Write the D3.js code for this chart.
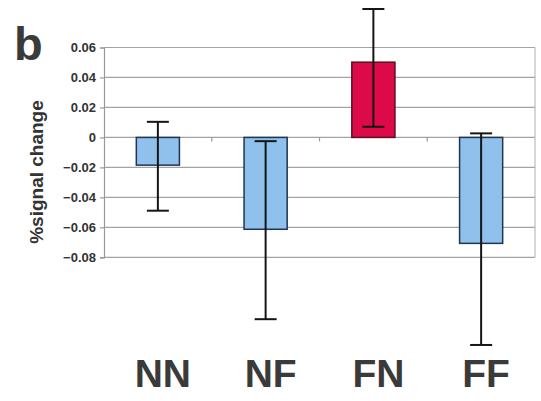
<!DOCTYPE html>
<html><head><meta charset="utf-8">
<script src="https://cdn.jsdelivr.net/npm/d3@7"></script>
<style>body{margin:0;background:#fff}svg{display:block}</style>
</head><body>
<svg id="c" width="541" height="401"></svg>
<script>
const categories = ["NN", "NF", "FN", "FF"];
const values = [-0.0185, -0.0613, 0.0502, -0.0707];
const errUpper = [0.0104, -0.0025, 0.0857, 0.0027];
const errLower = [-0.0489, -0.1213, 0.0071, -0.1385];
const highlight = [false, false, true, false];
const yTicks = [0.06, 0.04, 0.02, 0, -0.02, -0.04, -0.06, -0.08];

const svg = d3.select("#c");
const left = 104, right = 535;
const x = d3.scaleBand().domain(categories).range([left, right]).paddingInner(0.6).paddingOuter(0.3);
const xb = d3.scaleBand().domain(categories).range([left, right]);
const y = d3.scaleLinear().domain([-0.08, 0.06]).range([257.3, 47.5]);

// gridlines
svg.append("g").selectAll("line").data(yTicks).join("line")
  .attr("x1", left).attr("x2", right)
  .attr("y1", d => y(d)).attr("y2", d => y(d))
  .attr("stroke", "#a3a3a3").attr("stroke-width", 1.2);
// right border
svg.append("line").attr("x1", right).attr("x2", right).attr("y1", y(0.06)).attr("y2", y(-0.08))
  .attr("stroke", "#b0b0b0").attr("stroke-width", 1);

// y axis
const yAxis = d3.axisLeft(y).tickValues(yTicks).tickSize(4).tickPadding(4)
  .tickFormat(d => d === 0 ? "0" : d3.format(".2f")(d));
const gy = svg.append("g").attr("transform", `translate(${left},0)`).call(yAxis);
gy.select(".domain").attr("stroke", "#999").attr("stroke-width", 1.2);
gy.selectAll(".tick line").attr("stroke", "#999").attr("stroke-width", 1.2);
gy.selectAll("text").attr("font-family", "Liberation Sans, Arial, sans-serif")
  .attr("font-size", 13).attr("fill", "#333").attr("font-weight", "bold");

// category boundary ticks on zero line
svg.append("g").selectAll("line").data(categories.slice(1)).join("line")
  .attr("x1", d => xb(d)).attr("x2", d => xb(d))
  .attr("y1", y(0)).attr("y2", y(0) + 4)
  .attr("stroke", "#999").attr("stroke-width", 1.2);

// bars
svg.append("g").selectAll("rect").data(categories).join("rect")
  .attr("x", d => x(d))
  .attr("width", x.bandwidth())
  .attr("y", (d, i) => y(Math.max(0, values[i])))
  .attr("height", (d, i) => Math.abs(y(values[i]) - y(0)))
  .attr("fill", (d, i) => highlight[i] ? "#dc0a48" : "#90c0ec")
  .attr("stroke", (d, i) => highlight[i] ? "#5a1020" : "#1f3550")
  .attr("stroke-width", 1.5);

// error bars
const eg = svg.append("g").attr("stroke", "#151515").attr("stroke-width", 2);
categories.forEach((c, i) => {
  const cx = x(c) + x.bandwidth() / 2;
  eg.append("line").attr("x1", cx).attr("x2", cx).attr("y1", y(errUpper[i])).attr("y2", y(errLower[i]));
  [errUpper[i], errLower[i]].forEach(v => {
    eg.append("line").attr("x1", cx - 11).attr("x2", cx + 11).attr("y1", y(v)).attr("y2", y(v));
  });
});

// category labels
svg.append("g").selectAll("text").data(categories).join("text")
  .attr("x", d => x(d) + x.bandwidth() / 2 + 5)
  .attr("y", 387)
  .attr("text-anchor", "middle")
  .attr("font-family", "Liberation Sans, Arial, sans-serif")
  .attr("font-weight", "bold").attr("font-size", 39).attr("fill", "#3a3a3a")
  .text(d => d);

// y label
svg.append("text")
  .attr("transform", "translate(43,172) rotate(-90)")
  .attr("text-anchor", "middle")
  .attr("font-family", "Liberation Sans, Arial, sans-serif")
  .attr("font-weight", "bold").attr("font-size", 19).attr("fill", "#333")
  .text("%signal change");

// panel letter
svg.append("text").attr("x", 14).attr("y", 60)
  .attr("font-family", "Liberation Sans, Arial, sans-serif")
  .attr("font-weight", "bold").attr("font-size", 47).attr("fill", "#3a3a3a")
  .text("b");
</script>
</body></html>
